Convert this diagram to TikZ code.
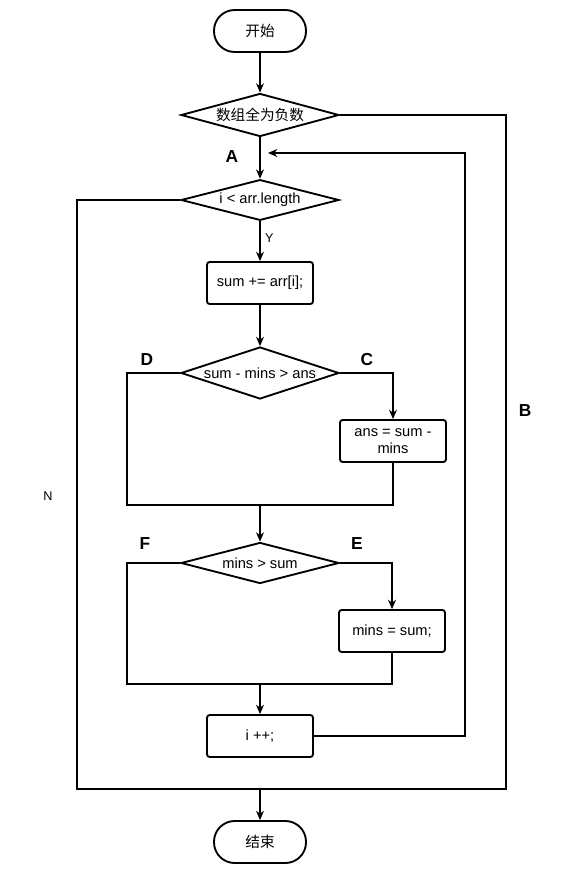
\documentclass[tikz,border=0pt]{standalone}
\usepackage{fontspec}
\setmainfont{Liberation Sans}
\newfontfamily\cjk{Noto Sans CJK SC}
\usetikzlibrary{shapes.geometric,arrows.meta}

\begin{document}
\begin{tikzpicture}[x=0.75pt,y=-0.75pt,
   font=\fontsize{11}{13}\selectfont,
   terminal/.style={draw,line width=1.4pt,rounded corners=15.5pt,minimum width=69pt,minimum height=31.5pt,inner sep=0pt},
   decision/.style={draw,diamond,line width=1.4pt,aspect=3,inner sep=0pt,minimum width=118.5pt},
   procbox/.style={draw,line width=1.4pt,rounded corners=2pt,minimum width=79.5pt,minimum height=31.5pt,inner sep=2pt,align=center},
   pathlabel/.style={font=\bfseries\fontsize{13}{15}\selectfont},
   branch/.style={font=\fontsize{9.5}{11}\selectfont},
   every path/.style={line width=0.9pt},
   >={Stealth[length=7pt,width=6pt]}]
   \useasboundingbox (0,0) rectangle (569,873);

   % blocks
   \node[terminal] (start) at (260,31) {\cjk 开始};
   \node[decision,minimum height=30pt] (neg) at (260,115) {\cjk 数组全为负数};
   \node[decision,minimum height=29.25pt] (loop) at (260,200) {i < arr.length};
   \node[procbox] (add) at (260,283) {sum += arr[i];};
   \node[decision,minimum height=39pt] (cmpans) at (260,373) {sum - mins > ans};
   \node[procbox] (setans) at (393,441) {ans = sum -\\mins};
   \node[decision,minimum height=30.75pt] (cmpmin) at (260,563) {mins > sum};
   \node[procbox] (setmin) at (392,631) {mins = sum;};
   \node[procbox] (inc) at (260,736) {i ++;};
   \node[terminal] (stop) at (260,842) {\cjk 结束};

   % corner points
   \coordinate (outR) at (506,789);
   \coordinate (outL) at (77,789);
   \coordinate (backR) at (465,153);
   \coordinate (backL) at (268,153);
   \coordinate (join1) at (127,505);
   \coordinate (join2) at (127,684);

   % connectors
   \draw[->] (start) -- (neg);
   \draw[->] (neg) -- (loop);
   \draw[->] (loop) -- node[branch,right,pos=0.42] (yes) {Y} (add);
   \draw[->] (add) -- (cmpans);
   \draw[->] (cmpans.east) -| (setans);
   \draw (cmpans.west) -| (join1) -| (setans.south);
   \draw[->] (join1 -| cmpmin.north) -- (cmpmin);
   \draw[->] (cmpmin.east) -| (setmin);
   \draw (cmpmin.west) -| (join2) -| (setmin.south);
   \draw[->] (join2 -| inc.north) -- (inc);
   \draw[->] (inc.east) -| (backR) -- (backL);
   \draw (neg.east) -| (outR) -- (outL) |- (loop.west);
   \draw[->] (outL -| stop.north) -- (stop);

   % labels
   \node[pathlabel] (labA) at (232,157) {A};
   \node[pathlabel] (labB) at (525,411) {B};
   \node[pathlabel] (labC) at (367,360) {C};
   \node[pathlabel] (labD) at (147,360) {D};
   \node[pathlabel] (labE) at (357,544) {E};
   \node[pathlabel] (labF) at (145,544) {F};
   \node[branch] (no) at (48,496) {N};
\end{tikzpicture}
\end{document}
